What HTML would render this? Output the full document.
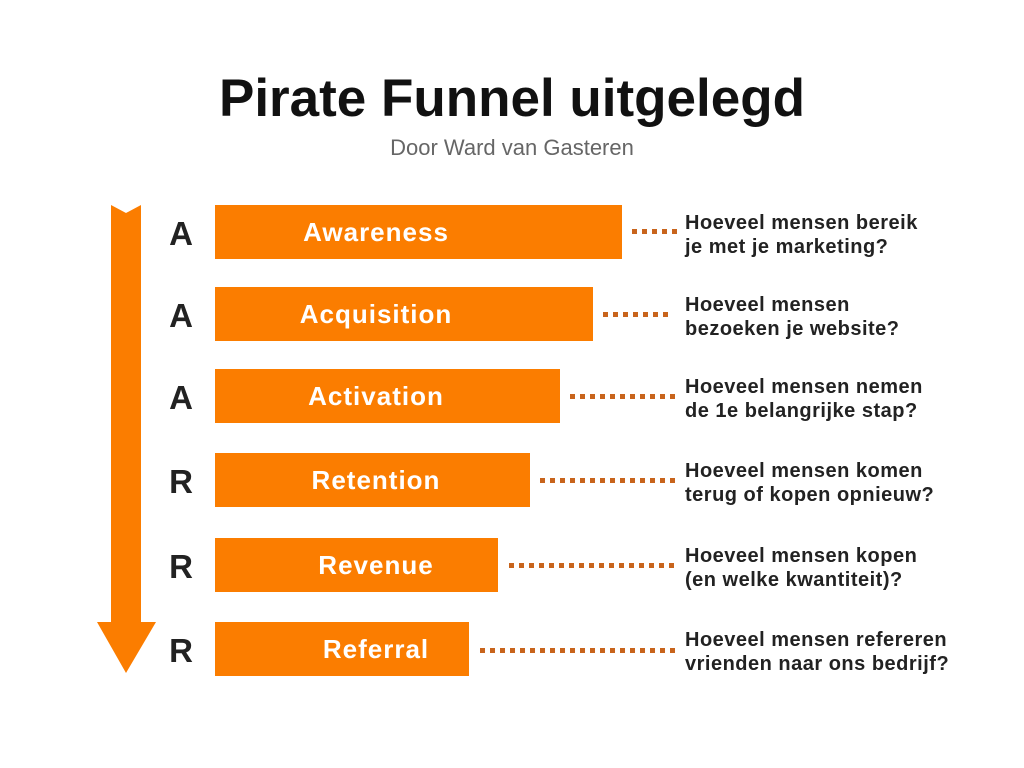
<!DOCTYPE html>
<html><head><meta charset="utf-8"><style>
body{margin:0;width:1024px;height:768px;background:#fff;position:relative;overflow:hidden;font-family:"Liberation Sans",sans-serif}
.t{position:absolute;left:0;width:1024px;text-align:center}
.bar{position:absolute;left:215px;height:54px;background:#fb7d00}
.lab{position:absolute;left:226px;width:300px;text-align:center;color:#fff;font-weight:bold;font-size:26px;letter-spacing:1px;line-height:54px}
.L{position:absolute;left:160px;width:42px;text-align:center;font-weight:bold;font-size:33px;color:#222;line-height:56px}
.d{position:absolute;height:5px;background:repeating-linear-gradient(90deg,#c8641c 0 5px,transparent 5px 10px)}
.q{position:absolute;left:685px;font-weight:bold;font-size:20px;letter-spacing:0.5px;line-height:24px;color:#222;white-space:nowrap}
</style></head><body>
<div class="t" style="top:68px;font-size:53px;font-weight:bold;color:#111">Pirate Funnel uitgelegd</div>
<div class="t" style="top:135px;font-size:22px;color:#666">Door Ward van Gasteren</div>
<svg style="position:absolute;left:0;top:0" width="200" height="768"><polygon points="111,205 126,213 141,205 141,622 156,622 126,673 97,622 111,622" fill="#fb7d00"/></svg>

<div class="L" style="top:206px">A</div><div class="bar" style="top:205px;width:407px"></div><div class="lab" style="top:205px">Awareness</div><div class="d" style="left:632px;width:45px;top:229px"></div><div class="q" style="top:211px">Hoeveel mensen bereik<br>je met je marketing?</div>
<div class="L" style="top:288px">A</div><div class="bar" style="top:287px;width:378px"></div><div class="lab" style="top:287px">Acquisition</div><div class="d" style="left:603px;width:65px;top:312px"></div><div class="q" style="top:293px">Hoeveel mensen<br>bezoeken je website?</div>
<div class="L" style="top:370px">A</div><div class="bar" style="top:369px;width:345px"></div><div class="lab" style="top:369px">Activation</div><div class="d" style="left:570px;width:105px;top:394px"></div><div class="q" style="top:375px">Hoeveel mensen nemen<br>de 1e belangrijke stap?</div>
<div class="L" style="top:454px">R</div><div class="bar" style="top:453px;width:315px"></div><div class="lab" style="top:453px">Retention</div><div class="d" style="left:540px;width:135px;top:478px"></div><div class="q" style="top:459px">Hoeveel mensen komen<br>terug of kopen opnieuw?</div>
<div class="L" style="top:539px">R</div><div class="bar" style="top:538px;width:283px"></div><div class="lab" style="top:538px">Revenue</div><div class="d" style="left:509px;width:165px;top:563px"></div><div class="q" style="top:544px">Hoeveel mensen kopen<br>(en welke kwantiteit)?</div>
<div class="L" style="top:623px">R</div><div class="bar" style="top:622px;width:254px"></div><div class="lab" style="top:622px">Referral</div><div class="d" style="left:480px;width:195px;top:648px"></div><div class="q" style="top:628px">Hoeveel mensen refereren<br>vrienden naar ons bedrijf?</div>
</body></html>
